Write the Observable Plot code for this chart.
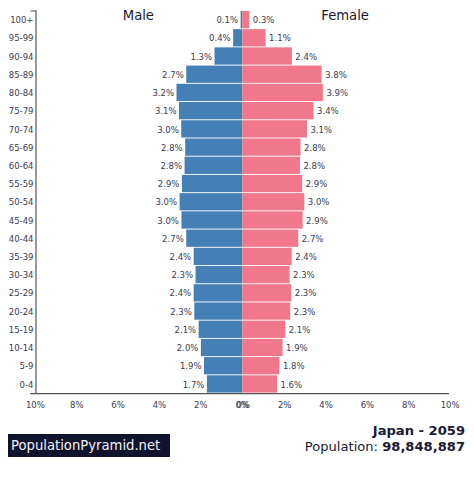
<!DOCTYPE html>
<html><head><meta charset="utf-8">
<script src="https://cdn.jsdelivr.net/npm/d3@7"></script>
<script src="https://cdn.jsdelivr.net/npm/@observablehq/plot@0.6"></script>
<style>
html,body{margin:0;padding:0;background:#fff;font-family:"DejaVu Sans",sans-serif}
#wrap{position:relative;width:474px;height:478px;overflow:hidden}
#brand{position:absolute;left:8px;top:434px;width:162px;height:23px;box-sizing:border-box;background:#10132e;color:#f2f2f5;font-size:13.2px;line-height:24px;padding-left:3px;white-space:nowrap}
#info{position:absolute;right:9px;top:423px;text-align:right;color:#1a1a33;font-size:13.1px;line-height:16px;white-space:nowrap}
</style></head><body>
<div id="wrap"><div id="chart"></div>
<div id="brand">PopulationPyramid.net</div>
<div id="info"><b>Japan - 2059</b><br>Population: <b>98,848,887</b></div></div>
<script>
const ages = ["100+","95-99","90-94","85-89","80-84","75-79","70-74","65-69","60-64","55-59","50-54","45-49","40-44","35-39","30-34","25-29","20-24","15-19","10-14","5-9","0-4"];
const male = [0.08,0.44,1.34,2.71,3.18,3.06,2.95,2.76,2.79,2.92,3.03,2.94,2.71,2.35,2.26,2.35,2.32,2.11,2.0,1.85,1.71];
const female = [0.34,1.13,2.40,3.84,3.90,3.45,3.13,2.82,2.79,2.90,3.0,2.92,2.71,2.39,2.29,2.37,2.32,2.08,1.95,1.8,1.68];
const maleLabels = ["0.1%","0.4%","1.3%","2.7%","3.2%","3.1%","3.0%","2.8%","2.8%","2.9%","3.0%","3.0%","2.7%","2.4%","2.3%","2.4%","2.3%","2.1%","2.0%","1.9%","1.7%"];
const femaleLabels = ["0.3%","1.1%","2.4%","3.8%","3.9%","3.4%","3.1%","2.8%","2.8%","2.9%","3.0%","2.9%","2.7%","2.4%","2.3%","2.3%","2.3%","2.1%","1.9%","1.8%","1.6%"];
const leftTicks = [-10,-8,-6,-4,-2,0];
const rightTicks = [0,2,4,6,8,10];
const sexes = [{x:-5,t:"Male"},{x:5,t:"Female"}];
const axisColor = "#555";
const textColor = "#3c3c50";
const tickFmt = d => Math.abs(d) + "%";
const rows = ages.map((age,i)=>({age,m:male[i],f:female[i],ml:maleLabels[i],fl:femaleLabels[i]}));
const plot = Plot.plot({
  width:474,height:410,marginLeft:35.5,marginRight:25,marginTop:10,marginBottom:16.5,
  style:{fontFamily:"DejaVu Sans",background:"transparent"},
  x:{domain:[-10,10],axis:null},
  y:{domain:ages,padding:0.05,round:false,axis:null},
  marks:[
    Plot.barX(rows,{y:"age",x1:d=>-d.m,x2:0,fill:"#4480b6"}),
    Plot.barX(rows,{y:"age",x1:0,x2:"f",fill:"#f0788a"}),
    Plot.text(rows,{y:"age",x:d=>-d.m,text:"ml",textAnchor:"end",dx:-3,dy:0.4,fontSize:8.5,fill:textColor}),
    Plot.text(rows,{y:"age",x:"f",text:"fl",textAnchor:"start",dx:3,dy:0.4,fontSize:8.5,fill:textColor}),
    Plot.text(rows,{y:"age",x:-10,text:"age",textAnchor:"end",dx:-2.5,dy:0.4,fontSize:8.5,fill:textColor}),
    Plot.ruleX([-10],{stroke:axisColor,strokeWidth:1.2}),
    Plot.ruleY(["100+"],{y:d=>d,x1:-10.25,x2:-10,dy:-9.1,stroke:axisColor}),
    Plot.ruleY(["0-4"],{y:d=>d,x1:-10.25,x2:10,dy:9.1,stroke:axisColor,strokeWidth:1.2}),
    Plot.tickX(leftTicks.concat(rightTicks),{x:d=>d,y:"0-4",dy:9,stroke:axisColor,insetTop:9,insetBottom:-4}),
    Plot.text(leftTicks,{x:d=>d,frameAnchor:"bottom",dy:14,dx:-0.6,text:tickFmt,fontSize:8.5,fill:textColor}),
    Plot.text(rightTicks,{x:d=>d,frameAnchor:"bottom",dy:14,dx:0.6,text:tickFmt,fontSize:8.5,fill:textColor}),
    Plot.text(sexes,{x:"x",frameAnchor:"top",dy:0,dx:-1,text:"t",fontSize:13.2,fill:"#1a1a33"})
  ]
});
document.getElementById("chart").append(plot);
</script></body></html>
